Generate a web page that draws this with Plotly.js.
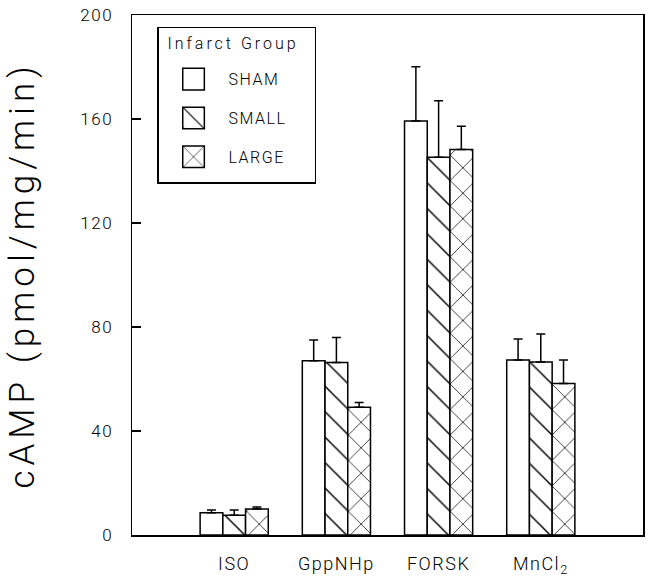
<!DOCTYPE html>
<html>
<head>
<meta charset="utf-8">
<script src="https://cdn.plot.ly/plotly-3.0.1.min.js"></script>
<style>
  html, body { margin: 0; padding: 0; background: #fff; }
  #chart { width: 650px; height: 579px; }
  svg text { letter-spacing: 1.5px; }
  svg text.legendtitletext { letter-spacing: 3px; }
  .main-svg .ytitle { letter-spacing: 5px !important; }
</style>
</head>
<body>
<div id="chart"></div>
<script>
// ---- data ----
const categoryPositions = [1, 2, 3, 4];
const categoryLabels = ["ISO", "GppNHp", "FORSK", "MnCl<sub>2</sub>"];
const groupNames = ["SHAM", "SMALL", "LARGE"];
const shamValues  = [8.6, 67.0, 159.2, 67.3];
const shamErrors  = [1.0, 8.0, 20.9, 8.1];
const smallValues = [7.6, 66.3, 145.3, 66.5];
const smallErrors = [2.0, 9.7, 21.7, 10.8];
const largeValues = [10.0, 49.1, 148.3, 58.3];
const largeErrors = [0.8, 1.9, 8.9, 9.0];
const yTickValues = [0, 40, 80, 120, 160, 200];

const seriesValues = [shamValues, smallValues, largeValues];
const seriesErrors = [shamErrors, smallErrors, largeErrors];
const patternShapes = ["", "\\", "x"];

const FONT = "Roboto, 'Liberation Sans', sans-serif";

const traces = groupNames.map((name, i) => ({
  type: "bar",
  name: name,
  legendgroup: name,
  x: categoryPositions,
  y: seriesValues[i],
  error_y: {
    type: "data",
    symmetric: false,
    array: seriesErrors[i],
    arrayminus: seriesValues[i].map(() => 0),
    color: "#000",
    thickness: 1.5,
    width: 4.5
  },
  marker: {
    color: "#fff",
    line: { color: "#000", width: 1.5 },
    pattern: { shape: patternShapes[i], fgcolor: "#000", bgcolor: "#fff", size: 18, solidity: 0.08 }
  }
}));

const layout = {
  width: 650,
  height: 579,
  paper_bgcolor: "#fff",
  plot_bgcolor: "#fff",
  margin: { l: 132, r: 7, t: 15, b: 44 },
  barmode: "group",
  bargap: 0.333,
  bargroupgap: 0,
  font: { family: FONT, color: "#000", size: 17, weight: 300 },
  showlegend: true,
  legend: {
    x: 0.049, y: 0.977, xanchor: "left", yanchor: "top",
    bordercolor: "#000", borderwidth: 1.5, bgcolor: "#fff",
    font: { family: FONT, size: 16, color: "#000", weight: 300 },
    title: {
      text: "<span style='font-size:16px'>&nbsp;Infarct Group&nbsp;&nbsp;</span><br> ",
      font: { family: FONT, size: 13, color: "#000", weight: 300 }
    },
    tracegroupgap: 15,
    itemwidth: 60,
    traceorder: "grouped"
  },
  xaxis: {
    range: [0, 5],
    tickvals: categoryPositions,
    ticktext: categoryLabels,
    ticks: "",
    showgrid: false,
    zeroline: false,
    showline: true,
    linecolor: "#000",
    linewidth: 1.5,
    mirror: true,
    ticklabelstandoff: 12,
    tickfont: { family: FONT, size: 18, weight: 300 }
  },
  yaxis: {
    range: [0, 200],
    tickvals: yTickValues,
    ticks: "inside",
    ticklen: 9,
    tickwidth: 1.5,
    tickcolor: "#000",
    showgrid: false,
    zeroline: false,
    showline: true,
    linecolor: "#000",
    linewidth: 1.5,
    mirror: true,
    ticklabelstandoff: 14,
    tickfont: { family: FONT, size: 17, weight: 300 },
    title: { text: "cAMP (pmol/mg/min)", font: { family: FONT, size: 35, weight: 300 }, standoff: 35 }
  }
};

Plotly.newPlot("chart", traces, layout, { displayModeBar: false, staticPlot: true }).then(gd => {
  // enlarge legend swatches to match the reference's square keys
  gd.querySelectorAll(".legend .legendpoints path").forEach(p => {
    const t = p.getAttribute("transform") || "";
    p.setAttribute("transform", t + " scale(1.8)");
    p.style.vectorEffect = "non-scaling-stroke";
  });
  // small legend box adjustments: a bit more bottom padding, title slightly lower
  const bg = gd.querySelector(".legend rect.bg");
  if (bg) {
    const h = parseFloat(bg.getAttribute("height")) || 0;
    bg.setAttribute("height", h + 8);
  }
  const tt = gd.querySelector(".legend .legendtitletext");
  if (tt) {
    const t = tt.getAttribute("transform") || "";
    tt.setAttribute("transform", t + " translate(0,4)");
  }
});
</script>
</body>
</html>
